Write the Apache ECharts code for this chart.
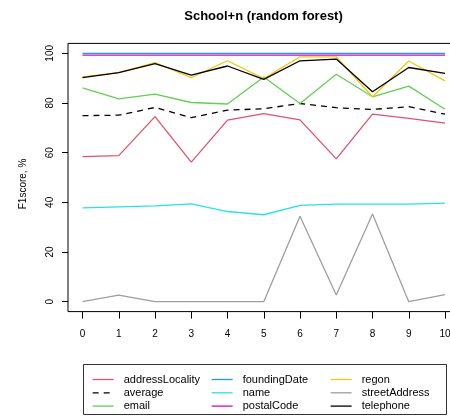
<!DOCTYPE html>
<html>
<head>
<meta charset="utf-8">
<script src="https://cdn.jsdelivr.net/npm/echarts@6/dist/echarts.min.js"></script>
<style>
  html, body { margin: 0; padding: 0; background: #fff; }
  #chart { width: 450px; height: 416px; }
</style>
</head>
<body>
<div id="chart"></div>
<script>
// x positions 0..10
const steps = [0, 1, 2, 3, 4, 5, 6, 7, 8, 9, 10];
const yTicks = [0, 20, 40, 60, 80, 100];

const addressLocality = [58.4, 58.8, 74.5, 56.2, 73.1, 75.7, 73.2, 57.5, 75.5, 73.8, 71.9];
const average = [74.9, 75.1, 78.2, 74.1, 77.1, 77.7, 79.8, 78.1, 77.4, 78.5, 75.5];
const email = [86.1, 81.7, 83.6, 80.2, 79.6, 90.5, 79.8, 91.6, 82.5, 86.8, 77.5];
const foundingDate = [100, 100, 100, 100, 100, 100, 100, 100, 100, 100, 100];
const name = [37.8, 38.2, 38.6, 39.4, 36.3, 35.0, 38.8, 39.3, 39.3, 39.3, 39.7];
const postalCode = [99.3, 99.3, 99.3, 99.3, 99.3, 99.3, 99.3, 99.3, 99.3, 99.3, 99.3];
const regon = [90.5, 92.2, 96.3, 90.2, 97.0, 89.8, 98.6, 98.6, 82.5, 96.9, 88.9];
const streetAddress = [0, 2.6, 0, 0, 0, 0, 34.4, 2.7, 35.3, 0, 2.8];
const telephone = [90.2, 92.2, 95.9, 91.2, 94.9, 89.5, 97.0, 97.7, 84.5, 94.3, 91.9];

const chart = echarts.init(document.getElementById('chart'));
const font = 'Liberation Sans, Arial, sans-serif';
const dash = [6, 5];

const mk = (label, values, color, type) => ({
  name: label,
  type: 'line',
  symbol: 'none',
  silent: true,
  data: steps.map((s, i) => [s, values[i]]),
  lineStyle: { color: color, width: 1.3, type: type || 'solid' },
  itemStyle: { color: color }
});

const series = [
  mk('addressLocality', addressLocality, '#DF536B'),
  mk('average', average, '#000000', dash),
  mk('email', email, '#61D04F'),
  mk('foundingDate', foundingDate, '#2297E6'),
  mk('name', name, '#28E2E5'),
  mk('postalCode', postalCode, '#CD0BBC'),
  mk('regon', regon, '#F5C710'),
  mk('streetAddress', streetAddress, '#9E9E9E'),
  mk('telephone', telephone, '#000000')
];

const legendCol = (left, names) => ({
  orient: 'vertical',
  left: left,
  top: 369,
  height: 60,
  itemWidth: 21,
  itemHeight: 11,
  itemGap: 2.3,
  selectedMode: false,
  itemStyle: { opacity: 0 },
  lineStyle: { width: 1.3 },
  data: names.map(n => n === 'average' ? { name: n, lineStyle: { type: dash } } : n),
  textStyle: { fontFamily: font, fontSize: 11, color: '#000', lineHeight: 11, padding: [0, 0, 0, 5] }
});

chart.setOption({
  animation: false,
  grid: {
    left: 68, top: 43.4, width: 391.5, bottom: 104.4,
    outerBoundsMode: 'none',
    show: true, borderColor: '#000', borderWidth: 1
  },
  xAxis: {
    type: 'value', min: -0.4, max: 10.4,
    splitLine: { show: false },
    axisLine: { show: false, onZero: false },
    axisTick: { show: true, inside: false, length: 7, customValues: steps, lineStyle: { color: '#000' } },
    axisLabel: { customValues: steps, margin: 18, fontFamily: font, fontSize: 10, color: '#000' }
  },
  yAxis: {
    type: 'value', min: -4, max: 104,
    splitLine: { show: false },
    axisLine: { show: false, onZero: false },
    axisTick: { show: true, inside: false, length: 6, customValues: yTicks, lineStyle: { color: '#000' } },
    axisLabel: { customValues: yTicks, rotate: 90, margin: 13, fontFamily: font, fontSize: 10, color: '#000' }
  },
  legend: [
    legendCol(87, ['addressLocality', 'average', 'email']),
    legendCol(206, ['foundingDate', 'name', 'postalCode']),
    legendCol(325, ['regon', 'streetAddress', 'telephone'])
  ],
  graphic: [
    {
      type: 'text', x: 263.5, y: 16,
      style: { text: 'School+n (random forest)', font: 'bold 13px ' + font, fill: '#000', textAlign: 'center', textVerticalAlign: 'middle' }
    },
    {
      type: 'text', x: 23, y: 184, rotation: Math.PI / 2,
      style: { text: 'F1score, %', font: '10px ' + font, fill: '#000', textAlign: 'center', textVerticalAlign: 'middle' }
    },
    {
      type: 'rect', shape: { x: 83.5, y: 364.5, width: 363, height: 50 },
      style: { fill: 'none', stroke: '#333', lineWidth: 1 }, z: -1
    }
  ],
  series: series
});
</script>
</body>
</html>
